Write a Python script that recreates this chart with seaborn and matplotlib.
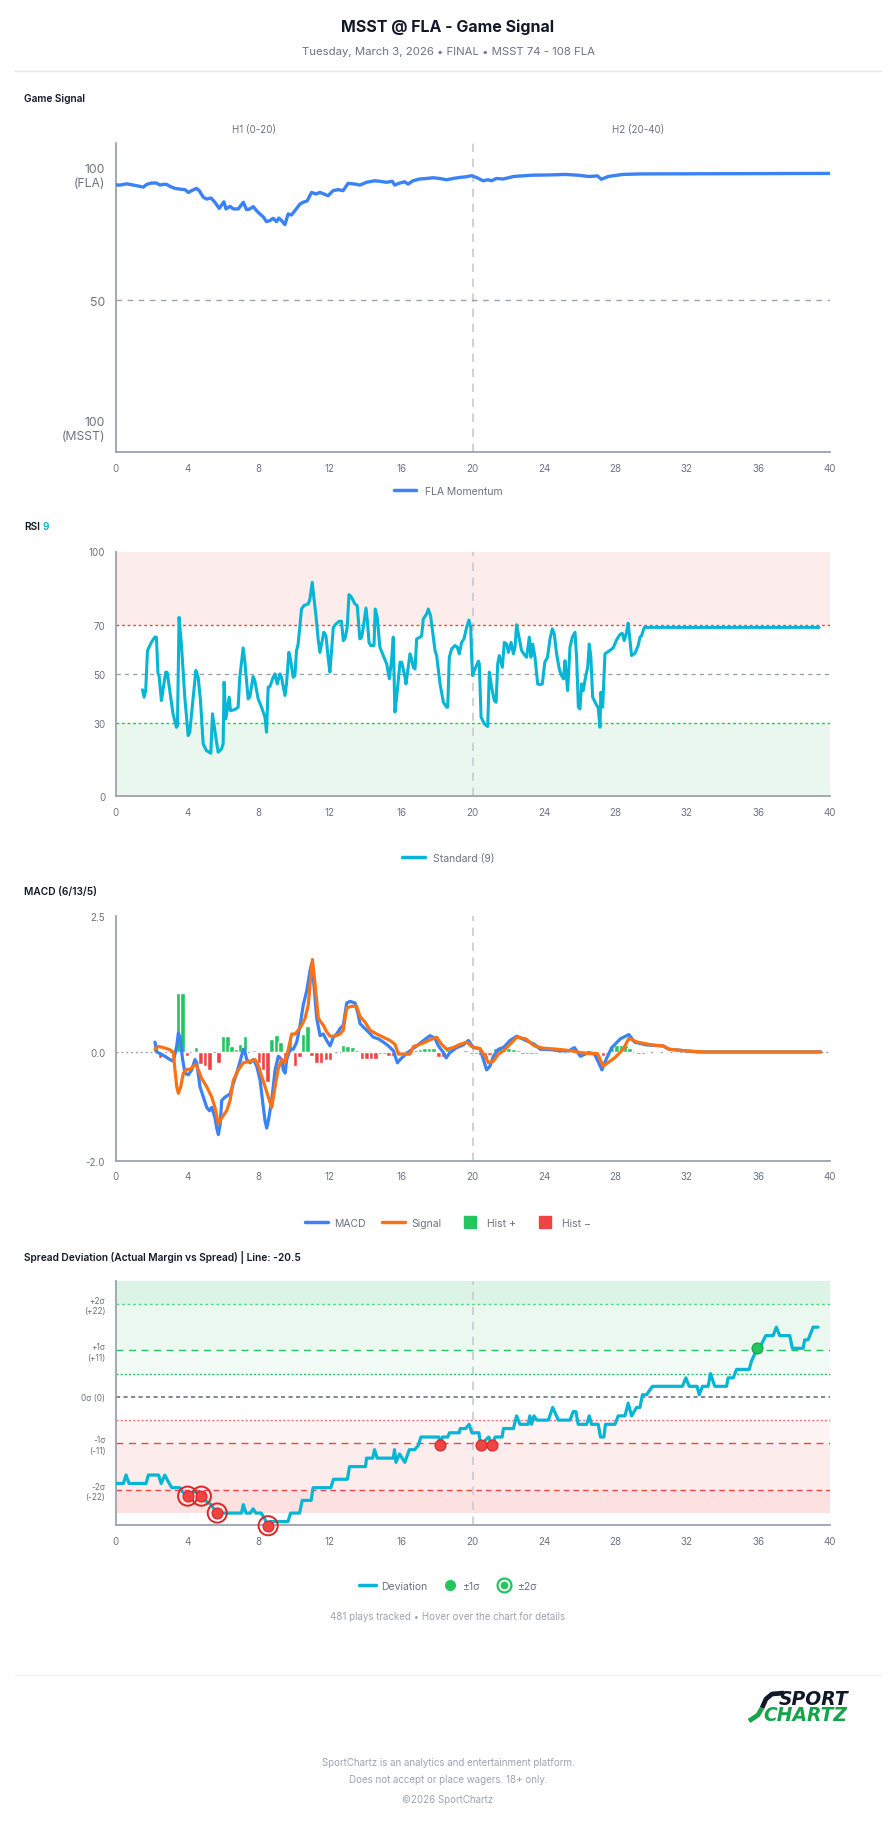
import matplotlib
matplotlib.use("Agg")
import matplotlib.pyplot as plt
import seaborn as sns
from matplotlib.lines import Line2D

# ---------------- data ----------------
# FLA momentum (game signal): (game minute, value 0=MSST 100 .. 100=FLA 100)
momentum = [(0, 95.5), (0.24, 95.4), (0.62, 95.9), (0.99, 95.4), (1.36, 94.9), (1.55, 94.6), (1.74, 95.7),
            (2.01, 96.2), (2.29, 96.2), (2.48, 95.4), (2.67, 95.7), (2.85, 95.7), (3.04, 94.9), (3.32, 94.1),
            (3.6, 93.8), (3.88, 93.6), (4.07, 92.5), (4.25, 93.2), (4.53, 94.1), (4.68, 93.2), (4.91, 90.6),
            (5.09, 89.9), (5.34, 90.3), (5.56, 88.6), (5.8, 86.2), (6.06, 88.8), (6.18, 86.0), (6.4, 87.0),
            (6.59, 86.0), (6.87, 86.0), (7.15, 88.6), (7.33, 85.7), (7.52, 86.0), (7.71, 86.9), (7.89, 85.3),
            (8.08, 84.0), (8.26, 82.9), (8.45, 81.0), (8.64, 81.4), (8.82, 82.3), (9.01, 81.0), (9.14, 82.4),
            (9.29, 81.4), (9.48, 79.8), (9.66, 84.0), (9.85, 83.6), (10.04, 85.3), (10.32, 87.9), (10.5, 88.6),
            (10.73, 89.2), (10.97, 92.5), (11.21, 91.9), (11.44, 92.5), (11.66, 91.9), (11.9, 91.2),
            (12.18, 93.2), (12.46, 93.6), (12.74, 93.2), (13.02, 96.1), (13.4, 95.8), (13.68, 95.4),
            (14.05, 96.5), (14.51, 97.1), (14.8, 96.9), (15.17, 96.5), (15.5, 96.9), (15.63, 95.4),
            (15.91, 96.2), (16.19, 96.7), (16.38, 95.8), (16.66, 97.1), (17.03, 97.8), (17.41, 98.0),
            (17.78, 98.3), (18.15, 98.0), (18.53, 97.5), (18.9, 98.0), (19.27, 98.4), (19.65, 98.7),
            (19.93, 99.1), (20.21, 98.4), (20.58, 97.1), (20.86, 97.5), (21.05, 97.1), (21.33, 98.0),
            (21.7, 97.8), (22.3, 98.8), (23.3, 99.3), (24.3, 99.4), (25.2, 99.6), (25.9, 99.3), (26.5, 98.8),
            (27.0, 99.0), (27.2, 97.7), (27.6, 98.8), (28.4, 99.6), (29.4, 99.8), (40.0, 100.0)]

# RSI (9)
rsi = [(1.50, 43.5), (1.59, 40.5), (1.68, 43.2), (1.78, 59.5), (2.00, 62.9), (2.19, 65.0), (2.28, 65.0),
       (2.37, 50.0), (2.43, 49.3), (2.56, 39.1), (2.80, 50.7), (2.88, 50.7), (3.03, 43.2), (3.21, 33.7),
       (3.40, 28.2), (3.46, 28.9), (3.55, 73.1), (3.68, 62.2), (3.87, 40.5), (4.06, 24.8), (4.15, 26.2),
       (4.49, 51.4), (4.62, 48.6), (4.75, 39.1), (4.90, 21.4), (5.08, 18.7), (5.33, 17.6), (5.42, 33.7),
       (5.61, 24.1), (5.74, 18.0), (5.93, 19.4), (6.02, 21.4), (6.07, 46.6), (6.17, 31.6), (6.36, 40.5),
       (6.43, 35.0), (6.67, 35.4), (6.86, 36.4), (6.95, 48.6), (7.14, 60.6), (7.23, 55.4), (7.42, 39.8),
       (7.51, 40.5), (7.70, 48.9), (7.79, 47.3), (7.98, 39.8), (8.17, 36.4), (8.36, 32.3), (8.45, 26.2),
       (8.54, 44.6), (8.64, 44.8), (8.82, 48.6), (8.92, 50.0), (9.05, 45.9), (9.20, 50.0), (9.29, 48.6),
       (9.48, 41.2), (9.57, 45.9), (9.70, 58.8), (9.79, 56.1), (9.94, 48.6), (10.04, 49.3), (10.13, 59.5),
       (10.22, 62.2), (10.41, 76.5), (10.54, 77.9), (10.79, 78.6), (10.88, 80.6), (11.01, 87.4),
       (11.10, 81.3), (11.21, 74.5), (11.35, 63.6), (11.44, 58.8), (11.53, 62.2), (11.66, 67.0),
       (11.78, 65.6), (11.90, 56.8), (12.00, 50.7), (12.09, 59.5), (12.19, 69.0), (12.34, 70.4),
       (12.52, 71.5), (12.65, 71.5), (12.75, 63.6), (12.84, 64.3), (12.97, 69.0), (13.07, 82.4),
       (13.21, 81.3), (13.40, 78.6), (13.53, 77.9), (13.68, 64.3), (13.78, 65.0), (13.87, 69.0),
       (14.02, 76.9), (14.10, 71.8), (14.19, 62.9), (14.28, 61.6), (14.47, 61.6), (14.54, 76.5),
       (14.65, 73.1), (14.80, 60.9), (14.99, 57.5), (15.18, 54.1), (15.33, 48.0), (15.46, 56.1),
       (15.55, 65.0), (15.64, 34.4), (15.74, 40.5), (15.93, 54.8), (16.02, 54.8), (16.21, 48.6),
       (16.26, 45.9), (16.49, 58.2), (16.58, 56.1), (16.67, 52.7), (16.77, 52.0), (16.86, 64.3),
       (17.05, 65.0), (17.14, 65.6), (17.23, 72.4), (17.42, 74.5), (17.51, 76.5), (17.64, 73.8),
       (17.79, 65.0), (17.89, 59.5), (17.98, 57.5), (18.17, 45.9), (18.36, 38.4), (18.54, 36.4),
       (18.60, 36.4), (18.69, 56.8), (18.82, 60.2), (19.01, 61.6), (19.14, 60.9), (19.25, 58.2),
       (19.38, 62.9), (19.51, 64.3), (19.66, 69.0), (19.79, 72.0), (19.89, 69.0), (19.94, 56.8),
       (20.00, 49.3), (20.09, 51.4), (20.32, 55.2), (20.37, 54.1), (20.47, 32.3), (20.65, 29.6),
       (20.84, 28.5), (20.93, 50.7), (21.06, 44.6), (21.21, 39.1), (21.31, 38.4), (21.40, 54.1),
       (21.49, 57.5), (21.66, 52.7), (21.77, 62.9), (21.90, 62.2), (22.00, 58.8), (22.15, 62.9),
       (22.28, 58.2), (22.37, 60.9), (22.46, 70.1), (22.56, 66.3), (22.74, 59.5), (22.93, 57.5),
       (23.02, 56.8), (23.17, 65.0), (23.26, 56.8), (23.36, 62.2), (23.49, 56.8), (23.64, 45.9),
       (23.77, 45.6), (23.90, 45.9), (24.04, 54.8), (24.19, 56.8), (24.33, 64.3), (24.46, 68.4),
       (24.57, 66.3), (24.70, 58.2), (24.85, 52.0), (24.98, 49.3), (25.09, 48.0), (25.17, 55.4),
       (25.26, 48.0), (25.32, 43.2), (25.45, 60.9), (25.58, 65.0), (25.73, 67.0), (25.82, 56.8),
       (25.92, 36.4), (26.01, 35.7), (26.10, 45.9), (26.19, 43.2), (26.32, 48.6), (26.44, 52.7),
       (26.53, 62.2), (26.62, 56.8), (26.72, 40.5), (26.90, 37.8), (27.03, 36.1), (27.13, 28.2),
       (27.18, 42.5), (27.28, 36.4), (27.41, 58.2), (27.63, 59.3), (27.87, 60.6), (28.06, 63.9),
       (28.25, 66.1), (28.38, 66.6), (28.49, 63.6), (28.62, 67.0), (28.71, 70.7), (28.81, 63.6),
       (28.90, 57.5), (29.09, 58.4), (29.27, 61.6), (29.37, 65.0), (29.46, 65.6), (29.61, 69.0),
       (39.40, 69.0)]

# MACD (6/13/5)
macd = [(2.2, 0.18), (2.3, 0.0), (2.48, -0.03), (2.76, -0.08), (3.04, -0.14), (3.23, -0.17), (3.42, 0.11),
        (3.51, 0.35), (3.6, 0.27), (3.75, -0.14), (3.88, -0.39), (4.07, -0.42), (4.26, -0.33), (4.44, -0.14),
        (4.54, -0.2), (4.72, -0.64), (4.91, -0.83), (5.1, -1.02), (5.25, -1.08), (5.38, -1.02), (5.56, -1.21),
        (5.66, -1.4), (5.75, -1.52), (5.85, -1.34), (5.94, -0.89), (6.13, -0.83), (6.41, -0.77), (6.59, -0.58),
        (6.78, -0.39), (6.97, -0.17), (7.15, 0.05), (7.25, -0.01), (7.34, -0.14), (7.53, -0.2), (7.71, -0.14),
        (7.9, -0.26), (8.09, -0.52), (8.27, -1.02), (8.37, -1.27), (8.46, -1.4), (8.55, -1.27), (8.74, -0.89),
        (8.93, -0.33), (9.11, -0.08), (9.3, -0.14), (9.39, -0.33), (9.49, -0.39), (9.58, -0.14), (9.77, 0.05),
        (9.95, 0.05), (10.14, 0.18), (10.33, 0.49), (10.51, 0.87), (10.7, 1.12), (10.89, 1.5), (10.98, 1.63),
        (11.07, 1.37), (11.26, 0.62), (11.45, 0.3), (11.63, 0.33), (11.82, 0.21), (12.01, 0.11),
        (12.19, 0.27), (12.38, 0.33), (12.57, 0.43), (12.75, 0.49), (12.94, 0.9), (13.13, 0.93),
        (13.41, 0.9), (13.59, 0.68), (13.69, 0.52), (13.87, 0.46), (14.15, 0.37), (14.44, 0.27),
        (14.72, 0.24), (15.0, 0.18), (15.28, 0.11), (15.56, 0.02), (15.78, -0.2), (15.93, -0.14),
        (16.12, -0.08), (16.49, 0.02), (16.86, 0.11), (17.24, 0.21), (17.61, 0.3), (17.89, 0.25),
        (18.08, 0.11), (18.36, -0.01), (18.51, -0.11), (18.73, -0.01), (19.1, 0.08), (19.48, 0.13),
        (19.76, 0.21), (20.04, 0.08), (20.41, 0.06), (20.6, -0.14), (20.78, -0.33), (20.97, -0.26),
        (21.16, -0.08), (21.44, 0.05), (21.72, 0.08), (22.09, 0.21), (22.47, 0.29), (22.98, 0.21),
        (23.46, 0.14), (23.78, 0.05), (24.42, 0.04), (24.9, 0.02), (25.38, 0.02), (25.7, 0.08),
        (26.03, -0.08), (26.5, -0.01), (26.83, -0.04), (27.24, -0.33), (27.47, -0.14), (27.79, 0.08),
        (28.27, 0.24), (28.75, 0.32), (29.07, 0.18), (29.71, 0.13), (30.67, 0.11), (31.0, 0.05),
        (31.96, 0.02), (32.6, 0.0), (39.5, 0.0)]

signal = [(2.2, 0.05), (2.39, 0.1), (2.67, 0.08), (3.04, 0.04), (3.23, -0.01), (3.32, -0.33), (3.42, -0.64),
          (3.51, -0.76), (3.64, -0.64), (3.79, -0.39), (3.98, -0.32), (4.16, -0.32), (4.35, -0.26),
          (4.5, -0.23), (4.63, -0.33), (4.82, -0.49), (5.1, -0.64), (5.38, -0.83), (5.56, -1.02),
          (5.66, -1.18), (5.75, -1.32), (5.94, -1.21), (6.22, -1.08), (6.41, -0.89), (6.59, -0.52),
          (6.87, -0.33), (7.15, -0.2), (7.53, -0.17), (7.81, -0.14), (8.0, -0.26), (8.18, -0.45),
          (8.37, -0.64), (8.55, -0.83), (8.74, -1.02), (8.93, -0.64), (9.11, -0.3), (9.3, -0.14),
          (9.49, -0.2), (9.67, 0.05), (9.86, 0.33), (10.05, 0.33), (10.23, 0.4), (10.42, 0.49),
          (10.61, 0.62), (10.79, 0.87), (10.89, 1.25), (11.02, 1.7), (11.17, 1.25), (11.35, 0.62),
          (11.63, 0.49), (11.82, 0.37), (12.01, 0.29), (12.29, 0.29), (12.57, 0.33), (12.75, 0.4),
          (12.94, 0.81), (13.22, 0.84), (13.5, 0.84), (13.69, 0.65), (13.97, 0.55), (14.25, 0.4),
          (14.62, 0.33), (15.0, 0.27), (15.37, 0.21), (15.65, 0.14), (15.84, -0.04), (16.12, -0.04),
          (16.49, -0.04), (16.68, 0.1), (17.05, 0.14), (17.52, 0.21), (17.98, 0.27), (18.26, 0.14),
          (18.54, 0.05), (18.92, 0.08), (19.29, 0.14), (19.67, 0.18), (19.94, 0.1), (20.41, 0.06),
          (20.69, -0.08), (20.88, -0.2), (21.16, -0.17), (21.44, -0.04), (21.72, 0.02), (22.09, 0.14),
          (22.47, 0.27), (22.98, 0.24), (23.46, 0.11), (23.94, 0.07), (24.74, 0.05), (25.54, 0.02),
          (26.03, -0.01), (26.5, -0.03), (26.99, -0.03), (27.31, -0.26), (27.95, -0.11), (28.43, 0.05),
          (28.75, 0.25), (29.23, 0.18), (30.03, 0.13), (30.67, 0.11), (31.0, 0.05), (31.96, 0.02),
          (32.92, 0.0), (39.5, 0.0)]

hist = [(2.2, 0.19), (2.48, -0.11), (3.51, 1.09), (3.75, 1.09), (4.0, -0.08), (4.5, 0.1), (4.76, -0.23),
        (5.0, -0.26), (5.25, -0.34), (5.75, -0.2), (6.03, 0.3), (6.25, 0.3), (6.5, 0.11), (6.74, 0.06),
        (6.97, 0.14), (7.25, 0.29), (7.75, 0.03), (8.03, -0.2), (8.27, -0.33), (8.5, -0.55), (8.74, 0.23),
        (9.02, 0.32), (9.24, 0.18), (9.49, -0.2), (9.77, 0.29), (10.05, -0.25), (10.29, -0.09),
        (10.51, 0.33), (10.76, 0.47), (10.98, -0.08), (11.26, -0.21), (11.5, -0.21), (11.78, -0.14),
        (12.0, -0.14), (12.75, 0.13), (13.0, 0.11), (13.26, 0.1), (13.5, 0.04), (13.8, -0.13),
        (14.05, -0.13), (14.3, -0.13), (14.55, -0.13), (14.8, -0.03), (15.05, -0.03), (15.3, -0.08),
        (15.55, -0.08), (16.3, 0.03), (16.55, 0.03), (16.8, 0.03), (17.05, 0.06), (17.3, 0.08),
        (17.55, 0.08), (17.8, 0.08), (18.1, -0.1), (18.35, -0.1), (18.6, 0.06), (18.85, 0.03),
        (19.1, 0.02), (19.35, 0.02), (19.6, 0.03), (19.95, -0.03), (20.2, -0.03), (20.45, -0.05),
        (20.7, -0.14), (20.95, -0.06), (21.25, 0.08), (21.5, 0.1), (21.75, 0.08), (22.0, 0.08),
        (22.3, 0.05), (22.55, 0.03), (22.8, -0.03), (23.05, -0.03), (23.3, -0.03), (23.55, -0.03),
        (23.8, -0.02), (24.05, 0.01), (24.3, 0.02), (24.55, 0.01), (25.0, -0.01), (25.5, 0.01),
        (26.0, -0.02), (26.5, 0.01), (27.0, -0.02), (27.3, -0.07), (27.55, -0.03), (27.8, 0.1),
        (28.05, 0.13), (28.3, 0.13), (28.55, 0.13), (28.8, 0.07), (29.3, -0.03), (29.55, -0.03),
        (29.8, -0.01), (30.3, -0.01), (30.8, -0.01), (31.3, -0.01)]

# spread deviation (actual FLA margin minus 20.5)
deviation = [(0, -20.5), (0.43, -20.5), (0.58, -18.5), (0.75, -20.5), (1.7, -20.5), (1.83, -18.5),
             (2.4, -18.5), (2.55, -20.5), (2.75, -18.5), (3.0, -20.5), (3.15, -21.5), (3.6, -21.5),
             (3.75, -22.5), (4.03, -23.5), (4.3, -22.5), (4.55, -22.5), (4.8, -23.5), (5.0, -24.5),
             (5.35, -25.5), (5.5, -26.5), (5.69, -27.5), (7.05, -27.5), (7.15, -25.5), (7.3, -27.5),
             (7.55, -27.5), (7.7, -26.5), (7.85, -27.5), (8.15, -27.5), (8.3, -28.5), (8.54, -30.5),
             (8.65, -29.5), (9.65, -29.5), (9.8, -27.5), (10.3, -27.5), (10.45, -24.5), (10.95, -24.5),
             (11.06, -21.5), (12.05, -21.5), (12.2, -19.5), (12.98, -19.5), (13.1, -16.5), (14.0, -16.5),
             (14.05, -14.5), (14.4, -14.5), (14.5, -12.5), (14.65, -14.5), (15.55, -14.5), (15.62, -12.5),
             (15.7, -15.5), (15.9, -13.5), (16.2, -15.5), (16.45, -12.5), (16.75, -12.5), (16.95, -11.5),
             (17.1, -9.5), (18.1, -9.5), (18.19, -11.5), (18.3, -9.5), (18.6, -9.5), (18.7, -8.5),
             (19.25, -8.5), (19.3, -7.5), (19.6, -7.5), (19.8, -6.5), (19.95, -8.5), (20.35, -8.5),
             (20.45, -11.5), (20.65, -10.5), (20.9, -9.5), (21.1, -11.5), (21.25, -9.5), (21.65, -9.5),
             (21.72, -7.5), (22.28, -7.5), (22.46, -4.5), (22.65, -6.5), (23.1, -6.5), (23.2, -4.5),
             (23.3, -6.5), (23.43, -4.5), (23.6, -5.5), (24.24, -5.5), (24.48, -2.5), (24.8, -5.5),
             (25.45, -5.5), (25.63, -3.5), (25.78, -3.5), (25.91, -6.5), (26.38, -6.5), (26.53, -4.5),
             (26.66, -6.5), (27.03, -6.5), (27.16, -9.5), (27.35, -9.5), (27.44, -6.5), (27.97, -6.5),
             (28.15, -4.5), (28.53, -4.5), (28.71, -1.5), (28.9, -4.5), (29.18, -2.5), (29.37, -2.5),
             (29.51, 0.5), (29.74, 0.5), (30.07, 2.5), (31.75, 2.5), (31.94, 4.5), (32.13, 2.5),
             (32.57, 2.5), (32.69, 0.5), (32.87, 2.5), (33.19, 2.5), (33.32, 5.5), (33.56, 2.5),
             (34.22, 2.5), (34.31, 4.5), (34.6, 4.5), (34.78, 6.5), (35.49, 6.5), (35.62, 8.5),
             (35.95, 11.5), (36.18, 12.5), (36.42, 14.5), (36.83, 14.5), (37.01, 16.5), (37.2, 14.5),
             (37.76, 14.5), (37.91, 11.5), (38.51, 11.5), (38.6, 13.5), (38.79, 13.5), (39.07, 16.5),
             (39.35, 16.5)]

two_sigma_hits = [(4.03, -23.5), (4.8, -23.5), (5.69, -27.5), (8.54, -30.5)]
one_sigma_red = [(18.19, -11.5), (20.45, -11.5), (21.1, -11.5)]
one_sigma_green = [(35.95, 11.5)]

sigma = 11
spread_line = -20.5
x_ticks = list(range(0, 41, 4))
gs_ticks = [0, 50, 100]
gs_labels = ["100\n(MSST)", "50", "100\n(FLA)"]
rsi_ticks = [0, 30, 50, 70, 100]
macd_ticks = [-2.0, 0.0, 2.5]
sd_ticks = [22, 11, 0, -11, -22]
sd_labels = ["+2σ\n(+22)", "+1σ\n(+11)", "0σ (0)", "-1σ\n(-11)", "-2σ\n(-22)"]

# ---------------- styling ----------------
sns.set_style("white")
plt.rcParams['font.family'] = ['Inter', 'DejaVu Sans']

BLUE, CYAN, ORANGE = '#3b82f6', '#06b6d4', '#f97316'
GREEN, RED = '#22c55e', '#ef4444'
AXIS, LABEL, DARK = '#9ca3af', '#6b7280', '#111827'
LOGO_GREEN = '#16a34a'

W, H = 896, 1824
fig = plt.figure(figsize=(W / 100, H / 100), dpi=100)


def fx(px):
    return px / W


def fy(py):
    return 1 - py / H


def panel(top, bottom):
    ax = fig.add_axes([fx(115.7), fy(bottom), fx(714), (bottom - top) / H])
    sns.despine(ax=ax)
    for s in ['left', 'bottom']:
        ax.spines[s].set_color(AXIS)
        ax.spines[s].set_linewidth(1.3)
    ax.set_xlim(0, 40)
    ax.set_xticks(x_ticks)
    ax.tick_params(colors=AXIS, labelcolor=LABEL, labelsize=7, length=4, width=1)
    ax.axvline(20, color='#c8cbd0', lw=1.2, ls=(0, (5, 4)), zorder=1)
    return ax


def xs(pts):
    return [p[0] for p in pts]


def ys(pts):
    return [p[1] for p in pts]


def label(px, py, text, **kw):
    kw.setdefault('va', 'center')
    fig.text(fx(px), fy(py), text, **kw)


# ---------------- header ----------------
label(448, 27, "MSST @ FLA - Game Signal", ha='center', fontsize=11.5, fontweight='bold', color=DARK)
label(448, 52, "Tuesday, March 3, 2026 • FINAL • MSST 74 - 108 FLA", ha='center', fontsize=8.2, color=LABEL)
fig.add_artist(Line2D([fx(15), fx(881)], [fy(72), fy(72)], color='#e2e5ea', lw=1, transform=fig.transFigure))

# ---------------- panel 1: game signal ----------------
label(24, 99, "Game Signal", fontsize=7.3, fontweight='semibold', color=DARK)
label(254, 130, "H1 (0-20)", ha='center', fontsize=7, color=LABEL)
label(638, 130, "H2 (20-40)", ha='center', fontsize=7, color=LABEL)
ax1 = panel(144, 453.3)
ax1.set_ylim(-10, 112)
ax1.set_yticks(gs_ticks)
ax1.set_yticklabels(gs_labels)
ax1.tick_params(axis='y', labelsize=8.8)
ax1.axhline(50, color=AXIS, lw=1, ls=(0, (4, 4)), zorder=1)
sns.lineplot(x=xs(momentum), y=ys(momentum), ax=ax1, color=BLUE, linewidth=2.4, estimator=None, zorder=3)
ax1.set_xlabel('')
ax1.set_ylabel('')
fig.legend(handles=[Line2D([], [], color=BLUE, lw=2.5)], labels=["FLA Momentum"], loc='center',
           bbox_to_anchor=(0.5, fy(492)), frameon=False, fontsize=7.5, handlelength=2.2, labelcolor=LABEL)

# ---------------- panel 2: RSI ----------------
label(24, 527, "RSI", fontsize=7.3, fontweight='semibold', color=DARK)
label(42.5, 527, "9", fontsize=7.3, fontweight='semibold', color=CYAN)
ax2 = panel(552.5, 797.3)
ax2.set_ylim(0, 100)
ax2.set_yticks(rsi_ticks)
ax2.axhspan(70, 100, color='#fdecec', lw=0, zorder=0)
ax2.axhspan(0, 30, color='#e9f7ee', lw=0, zorder=0)
ax2.axhline(70, color=RED, lw=1, ls=(0, (2, 2)), zorder=1)
ax2.axhline(30, color=GREEN, lw=1, ls=(0, (2, 2)), zorder=1)
ax2.axhline(50, color=AXIS, lw=1, ls=(0, (3, 3)), zorder=1)
sns.lineplot(x=xs(rsi), y=ys(rsi), ax=ax2, color=CYAN, linewidth=2.2, estimator=None, zorder=3)
ax2.set_xlabel('')
ax2.set_ylabel('')
fig.legend(handles=[Line2D([], [], color=CYAN, lw=2.5)], labels=["Standard (9)"], loc='center',
           bbox_to_anchor=(0.5, fy(859)), frameon=False, fontsize=7.5, handlelength=2.2, labelcolor=LABEL)

# ---------------- panel 3: MACD ----------------
label(24, 892, "MACD (6/13/5)", fontsize=7.3, fontweight='semibold', color=DARK)
ax3 = panel(917, 1161.7)
ax3.set_ylim(-2.0, 2.5)
ax3.set_yticks(macd_ticks)
ax3.set_yticklabels([f"{t:.1f}" for t in macd_ticks])
ax3.axhline(0, color=AXIS, lw=1, ls=(0, (1.5, 2)), zorder=1)
ax3.bar(xs(hist), ys(hist), width=0.26, color=[GREEN if v >= 0 else RED for v in ys(hist)], zorder=2)
sns.lineplot(x=xs(macd), y=ys(macd), ax=ax3, color=BLUE, linewidth=2.3, estimator=None, zorder=3)
sns.lineplot(x=xs(signal), y=ys(signal), ax=ax3, color=ORANGE, linewidth=2.3, estimator=None, zorder=4)
ax3.set_xlabel('')
ax3.set_ylabel('')
macd_handles = [Line2D([], [], color=BLUE, lw=2.5), Line2D([], [], color=ORANGE, lw=2.5),
                Line2D([], [], color=GREEN, marker='s', ls='', markersize=8.5),
                Line2D([], [], color=RED, marker='s', ls='', markersize=8.5)]
fig.legend(handles=macd_handles, labels=["MACD", "Signal", "Hist +", "Hist −"], loc='center', ncol=4,
           bbox_to_anchor=(0.5, fy(1224)), frameon=False, fontsize=7.5, handlelength=2.2,
           columnspacing=1.6, handletextpad=0.6, labelcolor=LABEL)

# ---------------- panel 4: spread deviation ----------------
label(24, 1258, "Spread Deviation (Actual Margin vs Spread) | Line: -20.5", fontsize=7.3,
      fontweight='semibold', color=DARK)
ax4 = panel(1281.7, 1526.3)
ax4.set_ylim(-30.4, 27.5)
ax4.set_yticks(sd_ticks)
ax4.set_yticklabels(sd_labels)
ax4.tick_params(axis='y', labelsize=6)
ax4.axhspan(2 * sigma, 2.5 * sigma, color='#dcf4e5', lw=0, zorder=0)
ax4.axhspan(sigma, 2 * sigma, color='#eaf8ef', lw=0, zorder=0)
ax4.axhspan(sigma / 2, sigma, color='#f2fbf5', lw=0, zorder=0)
ax4.axhspan(-sigma, -sigma / 2, color='#fef4f4', lw=0, zorder=0)
ax4.axhspan(-2 * sigma, -sigma, color='#fdecec', lw=0, zorder=0)
ax4.axhspan(-2.5 * sigma, -2 * sigma, color='#fde1e1', lw=0, zorder=0)
ax4.axhline(2 * sigma, color='#4ade80', lw=1, ls=(0, (2, 2)), zorder=1)
ax4.axhline(sigma, color=GREEN, lw=1, ls=(0, (5, 4)), zorder=1)
ax4.axhline(sigma / 2, color=GREEN, lw=1, ls=(0, (1.5, 1.5)), zorder=1)
ax4.axhline(0, color=LABEL, lw=1.2, ls=(0, (2.5, 2)), zorder=1)
ax4.axhline(-sigma / 2, color='#f87171', lw=1, ls=(0, (1.5, 1.5)), zorder=1)
ax4.axhline(-sigma, color=RED, lw=1, ls=(0, (5, 4)), zorder=1)
ax4.axhline(-2 * sigma, color=RED, lw=1, ls=(0, (4, 3)), zorder=1)
sns.lineplot(x=xs(deviation), y=ys(deviation), ax=ax4, color=CYAN, linewidth=2.3, estimator=None, zorder=3)
sns.scatterplot(x=xs(two_sigma_hits), y=ys(two_sigma_hits), ax=ax4, s=190, facecolor='none',
                edgecolor='#dc2626', linewidth=1.4, zorder=4, clip_on=False)
sns.scatterplot(x=xs(two_sigma_hits + one_sigma_red), y=ys(two_sigma_hits + one_sigma_red), ax=ax4, s=62,
                color=RED, edgecolor='#dc2626', linewidth=0.8, zorder=5, clip_on=False)
sns.scatterplot(x=xs(one_sigma_green), y=ys(one_sigma_green), ax=ax4, s=62, color=GREEN,
                edgecolor=LOGO_GREEN, linewidth=0.8, zorder=5, clip_on=False)
ax4.set_xlabel('')
ax4.set_ylabel('')
sd_handles = [Line2D([], [], color=CYAN, lw=2.5),
              Line2D([], [], color=GREEN, marker='o', ls='', markersize=7),
              (Line2D([], [], color=GREEN, marker='o', ls='', markersize=10, markerfacecolor='white',
                      markeredgewidth=1.6),
               Line2D([], [], color=GREEN, marker='o', ls='', markersize=4.5))]
fig.legend(handles=sd_handles, labels=["Deviation", "±1σ", "±2σ"], loc='center', ncol=3,
           bbox_to_anchor=(0.5, fy(1587)), frameon=False, fontsize=7.5, handlelength=1.6,
           columnspacing=1.4, handletextpad=0.5, labelcolor=LABEL)
label(448, 1617, "481 plays tracked • Hover over the chart for details", ha='center', fontsize=7, color=AXIS)

# ---------------- footer ----------------
fig.add_artist(Line2D([fx(15), fx(881)], [fy(1676), fy(1676)], color='#eceef1', lw=1, transform=fig.transFigure))
fig.add_artist(Line2D([fx(784), fx(772), fx(766), fx(762)], [fy(1694), fy(1695), fy(1700), fy(1709)],
                      color=DARK, lw=3.4, solid_capstyle='butt', transform=fig.transFigure))
fig.add_artist(Line2D([fx(762), fx(758), fx(749)], [fy(1709), fy(1716), fy(1722)],
                      color=LOGO_GREEN, lw=3.4, solid_capstyle='butt', transform=fig.transFigure))
label(779, 1700, "SPORT", ha='left', fontsize=13.5, fontweight='bold', style='oblique', color=DARK,
      family='DejaVu Sans')
label(763, 1715.5, "CHARTZ", ha='left', fontsize=13.5, fontweight='bold', style='oblique', color=LOGO_GREEN,
      family='DejaVu Sans')
label(448, 1763, "SportChartz is an analytics and entertainment platform.", ha='center', fontsize=7, color=AXIS)
label(448, 1780, "Does not accept or place wagers. 18+ only.", ha='center', fontsize=7, color=AXIS)
label(448, 1800, "©2026 SportChartz", ha='center', fontsize=7, color=AXIS)

fig.savefig("out.png", dpi=100, facecolor='white')
